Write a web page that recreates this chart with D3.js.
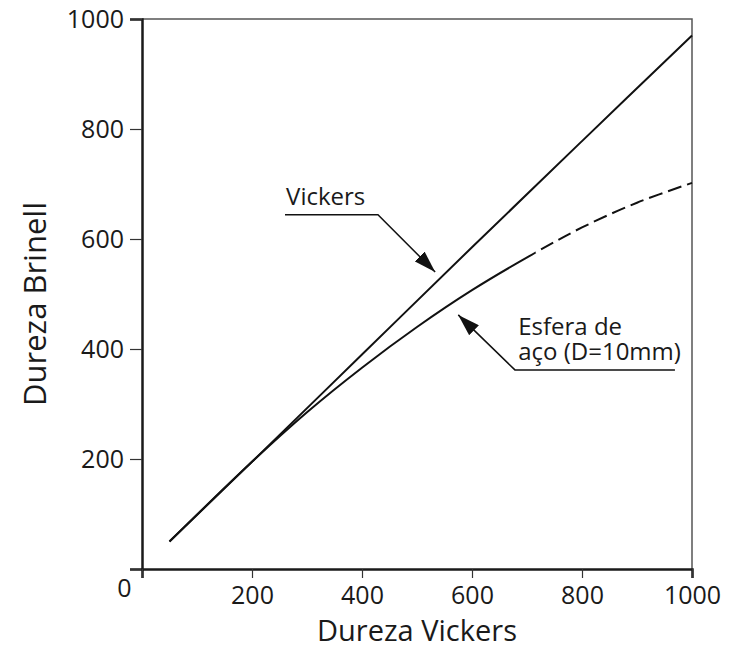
<!DOCTYPE html>
<html>
<head>
<meta charset="utf-8">
<script src="https://cdn.jsdelivr.net/npm/d3@7"></script>
<style>
  body { margin: 0; background: #fff; }
  text { font-family: "Open Sans", sans-serif; fill: #1a1a1a; }
</style>
</head>
<body>
<svg id="chart"></svg>
<script>
const WIDTH = 734
const HEIGHT = 648

// Vickers (straight) relation
const vickersHV = [50, 200, 400, 600, 800, 1000]
const vickersHB = [50, 195, 390, 585, 778, 970]

// steel ball (D=10mm); solid up to SOLID_END, dashed after
const ballHV = [50, 200, 300, 400, 500, 600, 715, 800, 900, 1000]
const ballHB = [50, 195, 285, 366, 440, 507, 575, 621, 666, 702]
const SOLID_END = 715

const xTicks = [0, 200, 400, 600, 800, 1000]
const yTicks = [0, 200, 400, 600, 800, 1000]

const svg = d3.select('#chart')
  .attr('width', WIDTH)
  .attr('height', HEIGHT)

const x = d3.scaleLinear().domain([0, 1000]).range([142, 692])
const y = d3.scaleLinear().domain([0, 1000]).range([569, 19])

// frame (top + right, thin)
svg.append('path')
  .attr('d', `M${x(0)},${y(1000)} H${x(1000)} V${y(0)}`)
  .attr('fill', 'none')
  .attr('stroke', '#555')
  .attr('stroke-width', 1.5)

// axes
const yAxis = svg.append('g')
  .attr('transform', `translate(${x(0)},0)`)
  .call(d3.axisLeft(y).tickValues(yTicks).tickSize(12).tickPadding(6).tickFormat(d3.format('d')))

const xAxis = svg.append('g')
  .attr('transform', `translate(0,${y(0)})`)
  .call(d3.axisBottom(x).tickValues(xTicks).tickSize(9).tickPadding(8).tickFormat(d => d === 0 ? '' : d))

;[yAxis, xAxis].forEach(g => {
  g.select('.domain').attr('stroke', '#1a1a1a').attr('stroke-width', 2.5)
  g.selectAll('.tick line').attr('stroke', '#333').attr('stroke-width', 1.2)
  g.selectAll('.tick text')
    .attr('font-family', '"Open Sans", sans-serif')
    .attr('font-size', 25)
    .attr('fill', '#1a1a1a')
})
// the shared origin label sits below the corner
yAxis.selectAll('.tick text').filter(d => d === 0).attr('dy', '1.1em').attr('dx', '0.3em')

// axis titles
svg.append('text')
  .attr('x', (x(0) + x(1000)) / 2)
  .attr('y', 641)
  .attr('text-anchor', 'middle')
  .attr('font-size', 29)
  .text('Dureza Vickers')

svg.append('text')
  .attr('transform', `translate(46,${(y(0) + y(1000)) / 2 + 10}) rotate(-90)`)
  .attr('text-anchor', 'middle')
  .attr('font-size', 31)
  .text('Dureza Brinell')

// curves
const line = d3.line().x(d => x(d[0])).y(d => y(d[1])).curve(d3.curveCatmullRom)

const defs = svg.append('defs')
defs.append('clipPath').attr('id', 'clip-solid')
  .append('rect').attr('x', 0).attr('y', 0).attr('width', x(SOLID_END)).attr('height', HEIGHT)
defs.append('clipPath').attr('id', 'clip-dash')
  .append('rect').attr('x', x(SOLID_END)).attr('y', 0).attr('width', WIDTH).attr('height', HEIGHT)

svg.append('path')
  .datum(d3.zip(vickersHV, vickersHB))
  .attr('d', line)
  .attr('fill', 'none')
  .attr('stroke', '#111')
  .attr('stroke-width', 2)

const ball = d3.zip(ballHV, ballHB)

svg.append('path')
  .datum(ball)
  .attr('d', line)
  .attr('clip-path', 'url(#clip-solid)')
  .attr('fill', 'none')
  .attr('stroke', '#111')
  .attr('stroke-width', 2)

svg.append('path')
  .datum(ball.filter(d => d[0] >= SOLID_END - 120))
  .attr('d', line)
  .attr('clip-path', 'url(#clip-dash)')
  .attr('fill', 'none')
  .attr('stroke', '#111')
  .attr('stroke-width', 2)
  .attr('stroke-dasharray', '14,6')

// arrowheads
defs.append('marker')
  .attr('id', 'arrow')
  .attr('viewBox', '0 0 22 14')
  .attr('markerUnits', 'userSpaceOnUse')
  .attr('markerWidth', 22)
  .attr('markerHeight', 14)
  .attr('refX', 22)
  .attr('refY', 7)
  .attr('orient', 'auto')
  .append('path')
  .attr('d', 'M0,0 L22,7 L0,14 Z')
  .attr('fill', '#111')

// annotations: leader in data units (start of underline, end of underline, arrow tip)
const vickersLeader = [[260, 644], [429, 644], [533, 540]]
const ballLeader = [[969, 362], [678, 362], [575, 462]]

const leader = d3.line().x(d => x(d[0])).y(d => y(d[1]))

;[vickersLeader, ballLeader].forEach(pts => {
  svg.append('path')
    .attr('d', leader(pts))
    .attr('fill', 'none')
    .attr('stroke', '#111')
    .attr('stroke-width', 1.5)
    .attr('marker-end', 'url(#arrow)')
})

svg.append('text')
  .attr('x', x(262))
  .attr('y', y(662))
  .attr('font-size', 24)
  .text('Vickers')

svg.append('text')
  .attr('x', x(684))
  .attr('y', y(426))
  .attr('font-size', 24)
  .text('Esfera de')

svg.append('text')
  .attr('x', x(684))
  .attr('y', y(380))
  .attr('font-size', 24)
  .text('aço (D=10mm)')
</script>
</body>
</html>
